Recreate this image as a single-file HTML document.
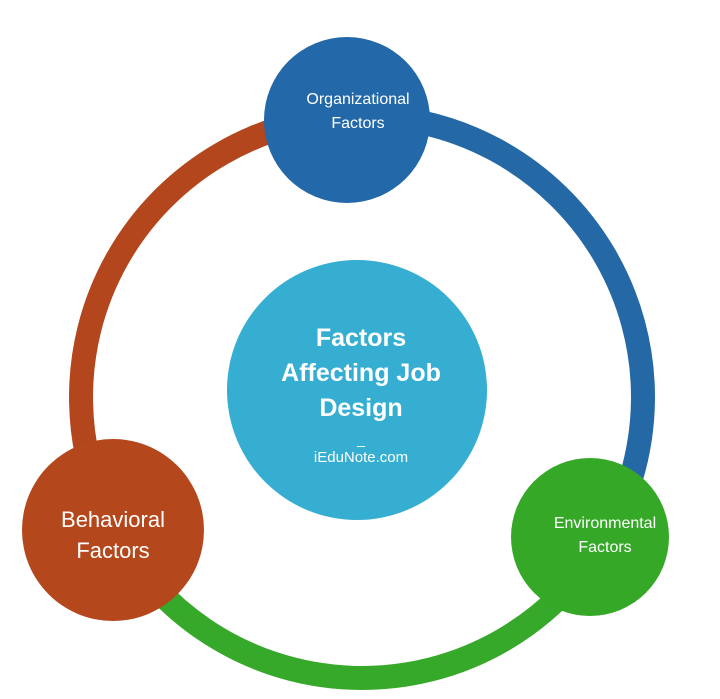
<!DOCTYPE html>
<html><head><meta charset="utf-8"><style>
html,body{margin:0;padding:0;background:#fff;}
svg{display:block;}
text{font-family:"Liberation Sans",sans-serif;fill:#fff;text-anchor:middle;}
</style></head><body>
<svg width="720" height="699" viewBox="0 0 720 699">
<g fill="none" stroke-width="24">
<path d="M347.3,116.4 A281,281 0 0 1 600.3,545.9" stroke="#2468a6"/>
<path d="M600.3,545.9 A281,281 0 0 1 113.9,528.9" stroke="#36a82a"/>
<path d="M113.9,528.9 A281,281 0 0 1 347.3,116.4" stroke="#b3461c"/>
</g>
<circle cx="357" cy="390" r="130" fill="#36aed2"/>
<circle cx="347" cy="120" r="83" fill="#2368a8"/>
<circle cx="113" cy="530" r="91" fill="#b4471b"/>
<circle cx="590" cy="537" r="79" fill="#36a828"/>
<text x="358" y="104" font-size="16">Organizational</text>
<text x="358" y="128" font-size="16">Factors</text>
<text x="361" y="346" font-size="25" font-weight="bold">Factors</text>
<text x="361" y="381" font-size="25" font-weight="bold">Affecting Job</text>
<text x="361" y="416" font-size="25" font-weight="bold">Design</text>
<text x="361" y="444" font-size="14">_</text>
<text x="361" y="462" font-size="15">iEduNote.com</text>
<text x="113" y="527" font-size="22">Behavioral</text>
<text x="113" y="558" font-size="22">Factors</text>
<text x="605" y="528" font-size="16">Environmental</text>
<text x="605" y="552" font-size="16">Factors</text>
</svg>
</body></html>
